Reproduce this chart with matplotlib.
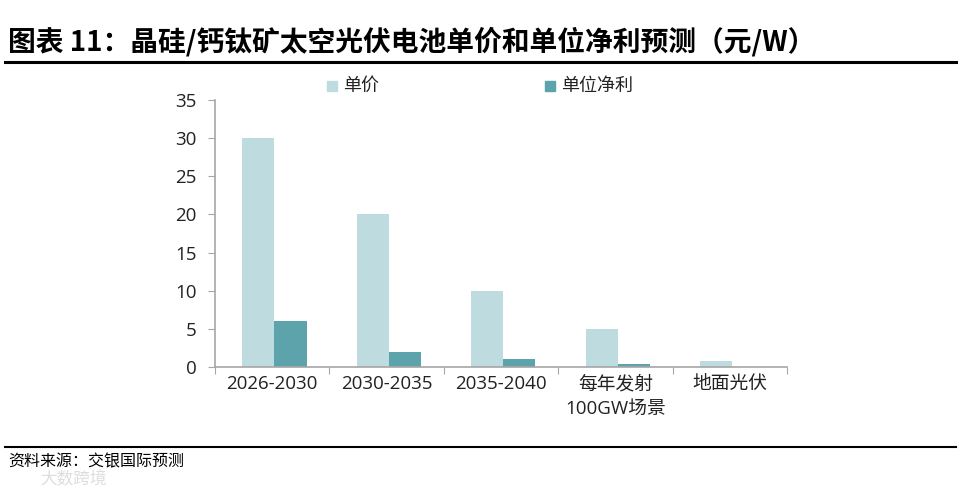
import matplotlib.pyplot as plt
import numpy as np

plt.rcParams['font.family'] = ['Open Sans', 'Noto Sans CJK SC', 'DejaVu Sans']

categories = ['2026-2030', '2030-2035', '2035-2040', '每年发射\n100GW场景', '地面光伏']
unit_price = [30, 20, 10, 5, 0.8]
net_profit = [6, 2, 1, 0.4, 0]
series_names = ['单价', '单位净利']
yticks = [0, 5, 10, 15, 20, 25, 30, 35]

light = '#BEDBDF'
dark = '#5CA3AC'
grey = '#A6A6A6'

fig = plt.figure(figsize=(9.61, 4.91), dpi=100)
ax = fig.add_axes([215 / 961, 1 - 367 / 491, 572 / 961, 267 / 491])

x = np.arange(len(categories))
w = 0.28
ax.bar(x - w / 2 + 0.02, unit_price, w, color=light, label=series_names[0])
profit_x = [xi + w / 2 + 0.02 for xi, v in zip(x, net_profit) if v > 0]
profit_v = [v for v in net_profit if v > 0]
ax.bar(profit_x, profit_v, w, color=dark, label=series_names[1])

ax.set_xlim(-0.5, len(categories) - 0.5)
ax.set_ylim(0, 35)
ax.set_yticks(yticks)
ax.set_yticklabels([str(t) for t in yticks], fontsize=13.5, color='#222222')
ax.set_xticks(np.arange(len(categories) + 1) - 0.5)
ax.set_xticklabels([])
ax.set_xticks(x, minor=True)
ax.set_xticklabels(categories, minor=True, fontsize=13.5, color='#222222', linespacing=1.45)
ax.tick_params(axis='x', which='minor', length=0, pad=6)
ax.tick_params(axis='x', which='major', length=5, color=grey, direction='out')
ax.tick_params(axis='y', length=5, color=grey, direction='out', pad=8)
for s in ['top', 'right']:
    ax.spines[s].set_visible(False)
for s in ['left', 'bottom']:
    ax.spines[s].set_color(grey)
    ax.spines[s].set_linewidth(1.2)

# legend
for lx, c, name in [(327, light, series_names[0]), (545, dark, series_names[1])]:
    fig.patches.append(plt.Rectangle((lx / 961, 1 - 91 / 491), 10 / 961, 10 / 491,
                                     transform=fig.transFigure, color=c))
    fig.text((lx + 16) / 961, 1 - 86 / 491, name, fontsize=13, va='center',
             family=['Noto Sans CJK SC'], color='#222222')

fig.text(8 / 961, 1 - 42 / 491, '图表 11：晶硅/钙钛矿太空光伏电池单价和单位净利预测（元/W）',
         fontsize=20, fontweight='bold', va='center', family=['Noto Sans CJK SC', 'DejaVu Sans'])
fig.add_artist(plt.Line2D([5 / 961, 956 / 961], [1 - 62 / 491] * 2, color='black', lw=2.2))
fig.add_artist(plt.Line2D([5 / 961, 956 / 961], [1 - 447 / 491] * 2, color='black', lw=1.5))
fig.text(8 / 961, 1 - 462 / 491, '资料来源：交银国际预测', fontsize=11.5,
         va='center', family=['Noto Sans CJK SC'])
fig.text(40 / 961, 1 - 480 / 491, '大数跨境', fontsize=12, color='#DDDDDD',
         va='center', family=['Noto Sans CJK SC'])

fig.savefig('out.png', dpi=100)
